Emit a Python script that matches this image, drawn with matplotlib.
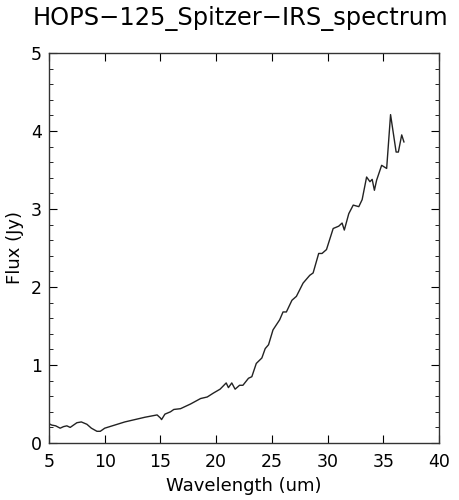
import matplotlib.pyplot as plt
import numpy as np
from matplotlib.ticker import MultipleLocator

plt.rcParams['font.family'] = ['DejaVu Sans']

TITLE = 'HOPS\u2212125_Spitzer\u2212IRS_spectrum'

# values
wavelength = [5.1, 5.24, 5.6, 6.0, 6.3, 6.6, 6.9, 7.2, 7.5, 7.9, 8.4, 8.8, 9.3, 9.6,
              10.0, 10.9, 11.8, 12.7, 13.6, 14.7, 15.0, 15.1, 15.4, 15.9, 16.2, 16.8,
              17.7, 18.6, 19.2, 19.75, 20.35, 20.9, 21.1, 21.4, 21.7, 22.1, 22.4, 22.9,
              23.2, 23.6, 24.1, 24.4, 24.7, 25.1, 25.7, 26.0, 26.3, 26.8, 27.2, 27.8,
              28.4, 28.7, 29.2, 29.5, 29.9, 30.5, 31.0, 31.3, 31.5, 31.9, 32.3, 32.8,
              33.1, 33.5, 33.8, 34.0, 34.2, 34.4, 34.85, 35.3, 35.65, 35.9, 36.15,
              36.35, 36.65, 36.85]
flux = [0.24, 0.23, 0.22, 0.19, 0.21, 0.22, 0.20, 0.23, 0.26, 0.27, 0.24, 0.19, 0.15, 0.15,
        0.19, 0.23, 0.27, 0.30, 0.33, 0.36, 0.32, 0.30, 0.37, 0.40, 0.43, 0.44,
        0.50, 0.57, 0.59, 0.64, 0.69, 0.77, 0.71, 0.77, 0.69, 0.74, 0.74, 0.83,
        0.85, 1.02, 1.09, 1.21, 1.26, 1.45, 1.58, 1.68, 1.68, 1.83, 1.88, 2.05,
        2.15, 2.18, 2.43, 2.43, 2.48, 2.75, 2.78, 2.82, 2.73, 2.94, 3.05, 3.03,
        3.12, 3.41, 3.35, 3.38, 3.24, 3.37, 3.56, 3.52, 4.21, 3.97, 3.73,
        3.73, 3.95, 3.86]

fig = plt.figure(figsize=(4.59, 5.0), dpi=100)
ax = fig.add_axes([0.1068, 0.114, 0.8497, 0.78])

ax.plot(wavelength, flux, color='#222222', linewidth=1.0)

ax.set_xlim(5, 40)
ax.set_ylim(0, 5)
ax.xaxis.set_major_locator(MultipleLocator(5))
ax.yaxis.set_major_locator(MultipleLocator(1))
ax.yaxis.set_minor_locator(MultipleLocator(0.2))

ax.tick_params(which='both', direction='in', top=True, right=True, labelsize=12.5)
ax.tick_params(axis='x', which='major', length=6, pad=7)
ax.tick_params(axis='y', which='major', length=6, pad=5)
ax.tick_params(which='minor', length=3)
for s in ax.spines.values():
    s.set_linewidth(1.0)
    s.set_color('#333333')

ax.set_xlabel('Wavelength (um)', fontsize=13, labelpad=4.5)
ax.set_ylabel('Flux (Jy)', fontsize=13, labelpad=5)
fig.text(0.523, 0.95, TITLE, ha='center', va='baseline', fontsize=17.4)

fig.savefig('out.png', dpi=100)
